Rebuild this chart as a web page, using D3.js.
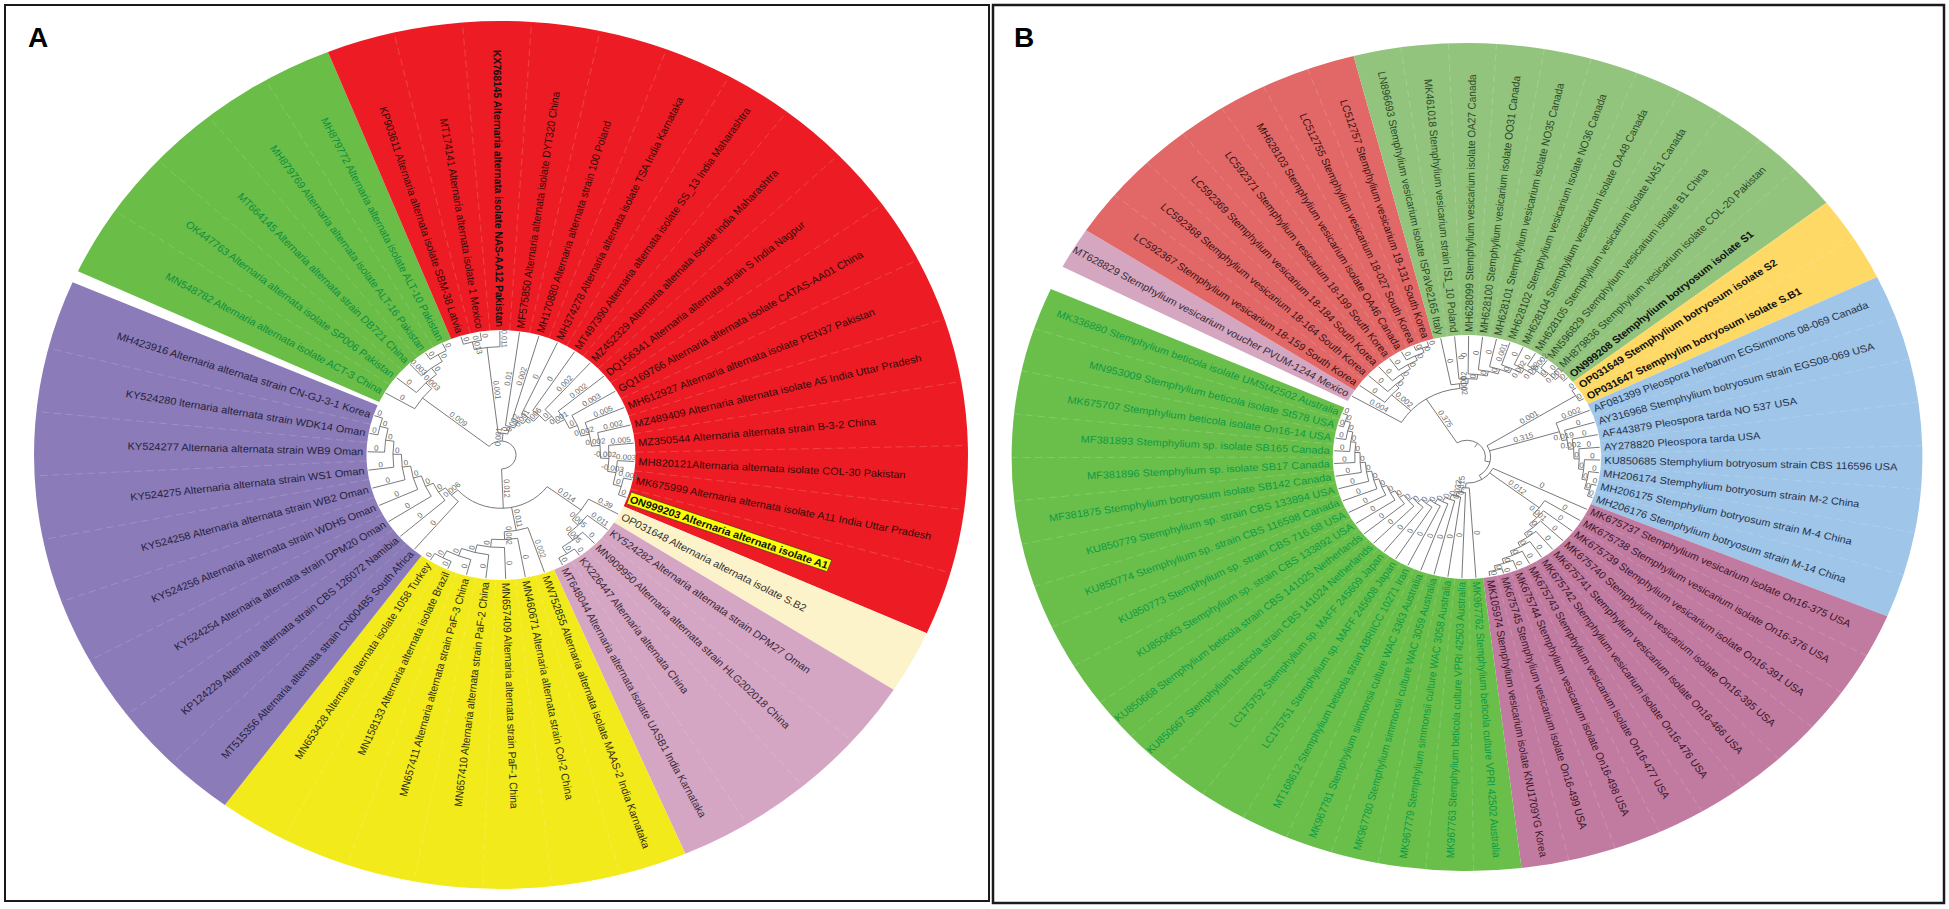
<!DOCTYPE html>
<html><head><meta charset="utf-8">
<script src="https://cdn.jsdelivr.net/npm/d3@7"></script>
<style>
html,body{margin:0;padding:0;background:#fff;}
svg{display:block;font-family:"Liberation Sans",Arial,Helvetica,sans-serif;}
</style></head><body>
<svg id="chart" width="1949" height="909"></svg>
<script>
// ================= PANEL A DATA =================
const idsA = ["MN548782","OK447763","MT664145","MH879769","MH879772",
 "KP903611","MT174141","KX768145","MF575850","MH170880","MH374278","MT497390","MZ452329","DQ156341","GQ169766","MH612927","MZ489409","MZ350544","MH820121","MK675999","ON999203",
 "OP031648",
 "KY524282","MN909950","KX226447","MT648044",
 "MW752855","MN460671","MN657409","MN657410","MN657411","MN158133","MN653428",
 "MT515356","KP124229","KY524254","KY524256","KY524258","KY524275","KY524277","KY524280","MH423916"];
const labelsA = [
 "MN548782 Alternaria alternata isolate ACT-3 China",
 "OK447763 Alternaria alternata isolate SP006 Pakistan",
 "MT664145 Alternaria alternata strain DB721 China",
 "MH879769 Alternaria alternata isolate ALT-16 Pakistan",
 "MH879772 Alternaria alternata isolate ALT-10 Pakistan",
 "KP903611 Alternaria alternata isolate SBM-38 Latvia",
 "MT174141 Alternaria alternata isolate 1 Mexico",
 "KX768145 Alternaria alternata isolate NAS-AA12 Pakistan",
 "MF575850 Alternaria alternata isolate DYT320 China",
 "MH170880 Alternaria alternata strain 100 Poland",
 "MH374278 Alternaria alternata isolate TSA India Karnataka",
 "MT497390 Alternaria alternata isolate SS_13 India Maharashtra",
 "MZ452329 Alternaria alternata isolate India Maharashtra",
 "DQ156341 Alternaria alternata strain S India Nagpur",
 "GQ169766 Alternaria alternata isolate CATAS-AA01 China",
 "MH612927 Alternaria alternata isolate PEN37 Pakistan",
 "MZ489409 Alternaria alternata isolate A5 India Uttar Pradesh",
 "MZ350544 Alternaria alternata strain B-3-2 China",
 "MH820121Alternaria alternata isolate COL-30 Pakistan",
 "MK675999 Alternaria alternata isolate A11 India Uttar Pradesh",
 "ON999203 Alternaria alternata isolate A1",
 "OP031648 Alternaria alternata isolate S.B2",
 "KY524282 Alternaria alternata strain DPM27 Oman",
 "MN909950 Alternaria alternata strain HLG202018 China",
 "KX226447 Alternaria alternata China",
 "MT648044 Alternaria alternata isolate UASB1 India Karnataka",
 "MW752855 Alternaria alternata isolate MAAS-2 India Karnataka",
 "MN460671 Alternaria alternata strain Col-2 China",
 "MN657409 Alternaria alternata strain PaF-1 China",
 "MN657410 Alternaria alternata strain PaF-2 China",
 "MN657411 Alternaria alternata strain PaF-3 China",
 "MN158133 Alternaria alternata isolate Brazil",
 "MN653428 Alternaria alternata isolate 1058 Turkey",
 "MT515356 Alternaria alternata strain CN004B5 South Africa",
 "KP124229 Alternaria alternata strain CBS 126072 Namibia",
 "KY524254 Alternaria alternata strain DPM20 Oman",
 "KY524256 Alternaria alternata strain WDH5 Oman",
 "KY524258 Alternaria alternata strain WB2 Oman",
 "KY524275 Alternaria alternata strain WS1 Oman",
 "KY524277 Alternaria alternata strain WB9 Oman",
 "KY524280 lternaria alternata strain WDK14 Oman",
 "MH423916 Alternaria alternata strain CN-GJ-3-1 Korea"];
const cladesA = ["green","green","green","green","green",
 "red","red","red","red","red","red","red","red","red","red","red","red","red","red","red","red",
 "cream",
 "pink","pink","pink","pink",
 "yellow","yellow","yellow","yellow","yellow","yellow","yellow",
 "purple","purple","purple","purple","purple","purple","purple","purple","purple"];
const fillA = {green:"#6abd46", red:"#ed1c24", cream:"#fdf3cb", pink:"#d4a6c4", yellow:"#f3ea1c", purple:"#8b7bb8"};
const textA = {green:"#0c8f43", red:"#330909", cream:"#333333", pink:"#3a2a36", yellow:"#2e2e10", purple:"#261f3c"};
const boldA = ["KX768145","ON999203"];
const highlightA = ["ON999203"];
const newickA = "((MN548782:0,(OK447763:0,(MT664145:0.003,(MH879769:0,MH879772:0):0):0):0.003):0.009," +
 "(((KP903611:0,MT174141:0):0.013,KX768145:0.011):0.001,(MF575850:0.01,(MH170880:0.002,(MH374278:0,(MT497390:0,(MZ452329:0.002,(DQ156341:0.002,(GQ169766:0.003,(MH612927:0.005,(MZ489409:0.002,(MZ350544:0.005,(MH820121:0.003,(MK675999:0.001,ON999203:0):0):-0.003):-0.002):0.002):0.002):0):0.001):0):0.006):0.001):0.002):0):0.001," +
 "((MT515356:0,(KP124229:0,(KY524254:0,(KY524256:0,(KY524258:0,(KY524275:0,(KY524277:0,(KY524280:0,MH423916:0):0):0):0):0):0):0):0):0.006," +
 "(MW752855:0.002,(MN460671:0,(MN657409:0,(MN657410:0,(MN657411:0,(MN158133:0,MN653428:0):0):0):0):0):0.002):0.011," +
 "((KY524282:0.011,(MN909950:0,(KX226447:0,MT648044:0):0):0.005):0.005,OP031648:0.39):0.014):0.012);";

// ================= PANEL B DATA =================
const idsB = ["MT628829",
 "LC592367","LC592368","LC592369","LC592371","MH628103","LC512755","LC512757",
 "LN896693","MK461018","MH628099","MH628100","MH628101","MH628102","MH628104","MH628105","MN596829","MH879836","ON999208",
 "OP031649","OP031647",
 "AF081399","AY316968","AF443879","AY278820","KU850685","MH206174","MH206175","MH206176",
 "MK675737","MK675738","MK675739","MK675740","MK675741","MK675742","MK675743","MK675744","MK675745","MK105974",
 "MK967762","MK967763","MK967779","MK967780","MK967781","MT168612","LC175751","LC175752","KU850667","KU850668","KU850663","KU850773","KU850774","KU850779","MF381875","MF381896","MF381893","MK675707","MN953009","MK336880"];
const labelsB = [
 "MT628829 Stemphylium vesicarium voucher PVUM-1244 Mexico",
 "LC592367 Stemphylium vesicarium 18-159 South Korea",
 "LC592368 Stemphylium vesicarium 18-164 South Korea",
 "LC592369 Stemphylium vesicarium 18-184 South Korea",
 "LC592371 Stemphylium vesicarium 18-199 South Korea",
 "MH628103 Stemphylium vesicarium isolate OA46 Canada",
 "LC512755 Stemphylium vesicarium 18-027 South Korea",
 "LC512757 Stemphylium vesicarium 19-131 South Korea",
 "LN896693 Stemphylium vesicarium isolate ISPaVe2165 Italy",
 "MK461018 Stemphylium vesicarium strain IS1_10 Poland",
 "MH628099 Stemphylium vesicarium isolate OA27 Canada",
 "MH628100 Stemphylium vesicarium isolate OO31 Canada",
 "MH628101 Stemphylium vesicarium isolate NO35 Canada",
 "MH628102 Stemphylium vesicarium isolate NO36 Canada",
 "MH628104 Stemphylium vesicarium isolate OA48 Canada",
 "MH628105 Stemphylium vesicarium isolate NA51 Canada",
 "MN596829 Stemphylium vesicarium isolate B1 China",
 "MH879836 Stemphylium vesicarium isolate COL-20 Pakistan",
 "ON999208 Stemphylium botryosum isolate S1",
 "OP031649 Stemphylium botryosum isolate S2",
 "OP031647 Stemphylim botryosum isolate S.B1",
 "AF081399 Pleospora herbarum EGSimmons 08-069 Canada",
 "AY316968 Stemphylium botryosum strain EGS08-069 USA",
 "AF443879 Pleospora tarda NO 537 USA",
 "AY278820 Pleospora tarda USA",
 "KU850685 Stemphylium botryosum strain CBS 116596 USA",
 "MH206174 Stemphylium botryosum strain M-2 China",
 "MH206175 Stemphylium botryosum strain M-4 China",
 "MH206176 Stemphylium botryosum strain M-14 China",
 "MK675737 Stemphylium vesicarium isolate On16-375 USA",
 "MK675738 Stemphylium vesicarium isolate On16-376 USA",
 "MK675739 Stemphylium vesicarium isolate On16-391 USA",
 "MK675740 Stemphylium vesicarium isolate On16-395 USA",
 "MK675741 Stemphylium vesicarium isolate On16-466 USA",
 "MK675742 Stemphylium vesicarium isolate On16-476 USA",
 "MK675743 Stemphylium vesicarium isolate On16-477 USA",
 "MK675744 Stemphylium vesicarium isolate On16-498 USA",
 "MK675745 Stemphylium vesicarium isolate On16-499 USA",
 "MK105974 Stemphylium vesicarium isolate KNU1709YG Korea",
 "MK967762 Stemphylium beticola culture VPRI 42502 Australia",
 "MK967763 Stemphylium beticola culture VPRI 42503 Australia",
 "MK967779 Stemphylium simmonsii culture WAC 3058 Australia",
 "MK967780 Stemphylium simmonsii culture WAC 3059 Australia",
 "MK967781 Stemphylium simmonsii culture WAC 3363 Australia",
 "MT168612 Stemphylium beticola strain ABRIICC 10271 Iran",
 "LC175751 Stemphylium sp. MAFF 245608 Japan",
 "LC175752 Stemphylium sp. MAFF 245609 Japan",
 "KU850667 Stemphylium beticola strain CBS 141024 Netherlands",
 "KU850668 Stemphylium beticola strain CBS 141025 Netherlands",
 "KU850663 Stemphylium sp. strain CBS 133892 USA",
 "KU850773 Stemphylium sp. strain CBS 716.68 USA",
 "KU850774 Stemphylium sp. strain CBS 116598 Canada",
 "KU850779 Stemphylium sp. strain CBS 133894 USA",
 "MF381875 Stemphylium botryosum isolate SB142 Canada",
 "MF381896 Stemphylium sp. isolate SB17 Canada",
 "MF381893 Stemphylium sp. isolate SB165 Canada",
 "MK675707 Stemphylium beticola isolate On16-14 USA",
 "MN953009 Stemphylium beticola isolate St578 USA",
 "MK336880 Stemphylium beticola isolate UMSt42502 Australia"];
const cladesB = ["pink",
 "salmon","salmon","salmon","salmon","salmon","salmon","salmon",
 "lgreen","lgreen","lgreen","lgreen","lgreen","lgreen","lgreen","lgreen","lgreen","lgreen","lgreen",
 "yellow","yellow",
 "blue","blue","blue","blue","blue","blue","blue","blue",
 "mauve","mauve","mauve","mauve","mauve","mauve","mauve","mauve","mauve","mauve",
 "green","green","green","green","green","green","green","green","green","green","green","green","green","green","green","green","green","green","green","green"];
const fillB = {pink:"#d5a6c0", salmon:"#e26868", lgreen:"#93c47d", yellow:"#ffd966", blue:"#9fc5e8", mauve:"#c27ba0", green:"#6abf4b"};
const textB = {pink:"#3a2a33", salmon:"#3a1212", lgreen:"#2c4a2a", yellow:"#2a2000", blue:"#26324a", mauve:"#3a1628", green:"#0c9a45"};
const boldB = ["ON999208","OP031649","OP031647"];
const highlightB = [];
const newickB = "(((MT628829:0.004," +
 "(LC592367:0,(LC592368:0,(LC592369:0,(LC592371:0,(MH628103:0,(LC512755:0,LC512757:0):0):0):0):0):0):0.002," +
 "(LN896693:0,(MK461018:0,(MH628099:0,(MH628100:0,(MH628101:0,(MH628102:0.001,(MH628104:0,(MH628105:0,(MN596829:0.002,(MH879836:0,ON999208:0):0.001):0):0.002):0.002):0):0):0):0):0.002):0.002):0.375," +
 "((OP031649:0,OP031647:0):0.001,(AF081399:0.002,(AY316968:0,(AF443879:0,(AY278820:0,(KU850685:0,(MH206174:0,(MH206175:0,MH206176:0):0):0):0):0):0.002):0.019):0.315," +
 "(MK675737:0,(MK675738:0,(MK675739:0,(MK675740:0,(MK675741:0,(MK675742:0,(MK675743:0,(MK675744:0,(MK675745:0,MK105974:0):0):0):0):0):0):0):0.001):0.012," +
 "(MK967762:0,(MK967763:0,(MK967779:0,(MK967780:0,(MK967781:0,(MT168612:0,(LC175751:0,(LC175752:0,(KU850667:0,(KU850668:0,(KU850663:0,(KU850773:0,(KU850774:0,(KU850779:0,(MF381875:0,(MF381896:0,(MF381893:0,(MK675707:0,(MN953009:0,MK336880:0):0):0):0):0):0):0):0):0):0):0):0):0):0):0):0):0):0):0.033):0.015);";

// ================= HELPERS =================
function parseNewick(s) {
  let i = 0;
  function node() {
    const n = {};
    if (s[i] === "(") {
      i++; n.children = [];
      while (i < s.length) {
        n.children.push(node());
        if (s[i] === ",") { i++; continue; }
        if (s[i] === ")") { i++; break; }
        break;
      }
    }
    let name = "";
    while (i < s.length && !",():;".includes(s[i])) name += s[i++];
    n.name = name.trim();
    if (s[i] === ":") {
      i++; let len = "";
      while (i < s.length && !",();".includes(s[i])) len += s[i++];
      n.length = len.trim();
    }
    return n;
  }
  return node();
}

const svg = d3.select("#chart");
const rad = d => d * Math.PI / 180;

function drawPanel(cfg) {
  const g = svg.append("g").attr("transform", `translate(${cfg.cx},${cfg.cy}) scale(${cfg.sx},1)`);
  const n = cfg.ids.length;
  const angle = d3.scaleLinear().domain([0, n - 1]).range([cfg.a0, cfg.a0 + (n - 1) * cfg.step]);
  const radius = d3.scaleLinear().domain([0, 1]).range([cfg.rRoot, cfg.rTip]);
  const gapMid = (angle(n - 1) + angle(0) + 360) / 2;

  const runs = [];
  cfg.clades.forEach((c, i) => {
    if (runs.length && runs[runs.length - 1].c === c) runs[runs.length - 1].j = i;
    else runs.push({ c, i, j: i });
  });
  const arc = d3.arc();
  g.append("g").selectAll("path").data(runs).join("path")
    .attr("d", r => {
      const t1 = r.i === 0 ? gapMid - 360 + cfg.gap / 2 : angle(r.i) - cfg.step / 2;
      const t2 = r.j === n - 1 ? gapMid - cfg.gap / 2 : angle(r.j) + cfg.step / 2;
      return arc({ innerRadius: cfg.rIn, outerRadius: cfg.rOut, startAngle: rad(t1 + 90), endAngle: rad(t2 + 90) });
    })
    .attr("fill", r => cfg.fill[r.c]);

  const seps = d3.range(n - 1).filter(i => cfg.clades[i] === cfg.clades[i + 1]);
  g.append("g").selectAll("line").data(seps).join("line")
    .attr("x1", i => cfg.rIn * Math.cos(rad(angle(i) + cfg.step / 2)))
    .attr("y1", i => cfg.rIn * Math.sin(rad(angle(i) + cfg.step / 2)))
    .attr("x2", i => cfg.rOut * Math.cos(rad(angle(i) + cfg.step / 2)))
    .attr("y2", i => cfg.rOut * Math.sin(rad(angle(i) + cfg.step / 2)))
    .attr("stroke", "#ffffff").attr("stroke-opacity", 0.2).attr("stroke-width", 0.8)
    .attr("stroke-dasharray", "7,4");

  const root = d3.hierarchy(parseNewick(cfg.newick));
  const H = root.height;
  root.eachAfter(d => {
    if (!d.children) {
      const k = cfg.ids.indexOf(d.data.name);
      d.theta = angle(k < 0 ? 0 : k);
      d.tmin = d.tmax = d.theta;
    } else {
      d.tmin = d3.min(d.children, c => c.theta);
      d.tmax = d3.max(d.children, c => c.theta);
      d.theta = (d.tmin + d.tmax) / 2;
    }
    d.r = radius(1 - d.height / H);
  });
  const P = (r, t) => [r * Math.cos(rad(t)), r * Math.sin(rad(t))];
  const tg = g.append("g").attr("fill", "none").attr("stroke", "#707070").attr("stroke-width", 0.9);
  tg.selectAll("path.radial").data(root.descendants().filter(d => d.parent)).join("path")
    .attr("class", "radial")
    .attr("d", d => { const a = P(d.parent.r, d.theta), b = P(d.r, d.theta); return `M${a[0]},${a[1]}L${b[0]},${b[1]}`; });
  tg.selectAll("path.arc").data(root.descendants().filter(d => d.children)).join("path")
    .attr("class", "arc")
    .attr("d", d => {
      const a = P(d.r, d.tmin), b = P(d.r, d.tmax);
      const large = (d.tmax - d.tmin) > 180 ? 1 : 0;
      return `M${a[0]},${a[1]}A${d.r},${d.r} 0 ${large} 1 ${b[0]},${b[1]}`;
    });

  const rot = t => { const m = ((t % 360) + 360) % 360; return (m > 90 && m < 270) ? m + 180 : m; };
  g.append("g").selectAll("text").data(root.descendants().filter(d => d.parent && d.data.length !== undefined)).join("text")
    .attr("transform", d => { const p = P((d.parent.r + d.r) / 2, d.theta); return `translate(${p[0]},${p[1]}) rotate(${rot(d.theta)})`; })
    .attr("text-anchor", "middle").attr("dy", "-1.5")
    .attr("font-size", 7.5).attr("fill", "#6a6a6a")
    .text(d => d.data.length);

  const lg = g.append("g");
  cfg.ids.forEach((id, i) => {
    const t = angle(i);
    const m = ((t % 360) + 360) % 360;
    const flip = m > 90 && m < 270;
    const p = P(cfg.rLabel, t);
    const grp = lg.append("g").attr("transform", `translate(${p[0]},${p[1]}) rotate(${flip ? m + 180 : m})`);
    const txt = grp.append("text")
      .attr("text-anchor", flip ? "end" : "start")
      .attr("dy", "0.35em")
      .attr("font-size", cfg.fontSize)
      .attr("font-weight", cfg.bold.includes(id) ? "bold" : "normal")
      .attr("fill", cfg.bold.includes(id) ? "#111" : cfg.textFill[cfg.clades[i]])
      .text(cfg.labels[i]);
    if (cfg.highlight.includes(id)) {
      const bb = txt.node().getBBox();
      grp.insert("rect", "text")
        .attr("x", bb.x - 1.5).attr("y", bb.y - 0.5)
        .attr("width", bb.width + 3).attr("height", bb.height + 1)
        .attr("fill", "#ffff00").attr("stroke", "#333").attr("stroke-width", 0.6);
    }
  });
}

svg.append("rect").attr("x", 5).attr("y", 5).attr("width", 984).attr("height", 896)
  .attr("fill", "none").attr("stroke", "#1a1a1a").attr("stroke-width", 2);
svg.append("rect").attr("x", 993).attr("y", 5).attr("width", 951).attr("height", 898)
  .attr("fill", "none").attr("stroke", "#1a1a1a").attr("stroke-width", 2.5);

drawPanel({ ids: idsA, labels: labelsA, clades: cladesA, fill: fillA, textFill: textA, bold: boldA, highlight: highlightA,
  newick: newickA, cx: 501, cy: 455, sx: 1.076, rIn: 125, rOut: 434, rLabel: 128, rTip: 124, rRoot: 14,
  a0: 210, step: 8.5, gap: 1.6, fontSize: 10.2 });
drawPanel({ ids: idsB, labels: labelsB, clades: cladesB, fill: fillB, textFill: textB, bold: boldB, highlight: highlightB,
  newick: newickB, cx: 1467, cy: 457, sx: 1.10, rIn: 122, rOut: 414, rLabel: 125, rTip: 121, rRoot: 12,
  a0: 210.2, step: 6.05, gap: 3.4, fontSize: 10 });

svg.append("text").attr("x", 28).attr("y", 47).attr("font-size", 28).attr("font-weight", "bold").attr("fill", "#000").text("A");
svg.append("text").attr("x", 1014).attr("y", 47).attr("font-size", 28).attr("font-weight", "bold").attr("fill", "#000").text("B");
</script>
</body></html>
